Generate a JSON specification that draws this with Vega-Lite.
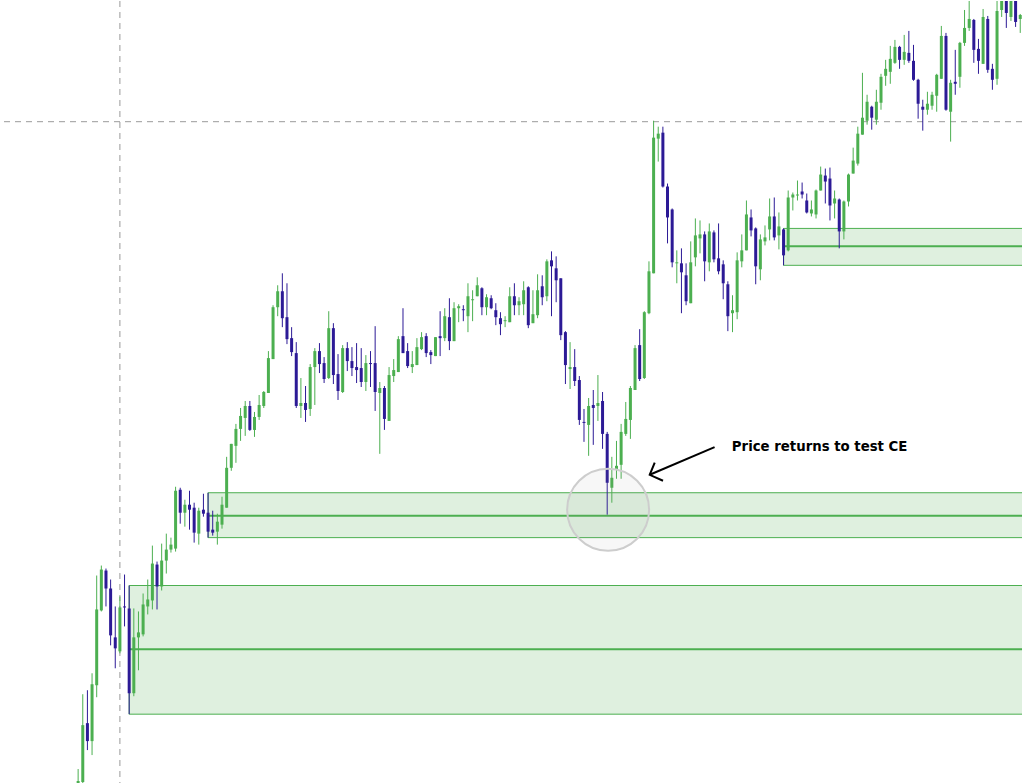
{
  "$schema": "https://vega.github.io/schema/vega-lite/v6.json",
  "width": 1023,
  "height": 784,
  "autosize": {"type": "fit", "contains": "padding"},
  "padding": 0,
  "background": "white",
  "config": {"view": {"stroke": null}, "scale": {"continuousPadding": 0}},
  "datasets": {
    "candles": [
      {"i":0,"o":-6,"h":14,"l":-11,"c":2},{"i":1,"o":1,"h":89,"l":0,"c":58},{"i":2,"o":60,"h":93,"l":33,"c":42},{"i":3,"o":42,"h":110,"l":28,"c":99},{"i":4,"o":98,"h":208,"l":86,"c":174},
      {"i":5,"o":173,"h":218,"l":172,"c":214},{"i":6,"o":213,"h":215,"l":177,"c":195},{"i":7,"o":195,"h":204,"l":138,"c":148},{"i":8,"o":146,"h":177,"l":115,"c":135},{"i":9,"o":132,"h":187,"l":130,"c":176},
      {"i":10,"o":177,"h":209,"l":157,"c":176},{"i":11,"o":175,"h":198,"l":69,"c":90},{"i":12,"o":90,"h":175,"l":87,"c":146},{"i":13,"o":146,"h":172,"l":113,"c":151},{"i":14,"o":149,"h":190,"l":147,"c":179},
      {"i":15,"o":177,"h":204,"l":169,"c":184},{"i":16,"o":183,"h":238,"l":174,"c":220},{"i":17,"o":219,"h":222,"l":174,"c":197},{"i":18,"o":197,"h":240,"l":193,"c":223},{"i":19,"o":223,"h":250,"l":210,"c":234},
      {"i":20,"o":234,"h":246,"l":231,"c":239},{"i":21,"o":235,"h":297,"l":232,"c":293},{"i":22,"o":294,"h":296,"l":260,"c":271},{"i":23,"o":271,"h":284,"l":257,"c":279},{"i":24,"o":279,"h":293,"l":254,"c":274},
      {"i":25,"o":276,"h":281,"l":241,"c":251},{"i":26,"o":250,"h":276,"l":239,"c":273},{"i":27,"o":274,"h":290,"l":267,"c":270},{"i":28,"o":271,"h":291,"l":246,"c":252},{"i":29,"o":254,"h":273,"l":248,"c":251},
      {"i":30,"o":252,"h":270,"l":239,"c":262},{"i":31,"o":259,"h":287,"l":255,"c":279},{"i":32,"o":276,"h":327,"l":276,"c":316},{"i":33,"o":316,"h":340,"l":313,"c":340},{"i":34,"o":338,"h":360,"l":321,"c":355},
      {"i":35,"o":355,"h":376,"l":343,"c":368},{"i":36,"o":366,"h":383,"l":348,"c":378},{"i":37,"o":378,"h":383,"l":353,"c":354},{"i":38,"o":354,"h":372,"l":347,"c":367},{"i":39,"o":367,"h":389,"l":364,"c":379},
      {"i":40,"o":378,"h":393,"l":376,"c":392},{"i":41,"o":391,"h":433,"l":391,"c":426},{"i":42,"o":425,"h":479,"l":425,"c":477},{"i":43,"o":477,"h":499,"l":468,"c":493},{"i":44,"o":493,"h":511,"l":457,"c":466},
      {"i":45,"o":467,"h":501,"l":440,"c":445},{"i":46,"o":446,"h":457,"l":428,"c":432},{"i":47,"o":431,"h":442,"l":376,"c":378},{"i":48,"o":378,"h":406,"l":366,"c":381},{"i":49,"o":381,"h":398,"l":362,"c":374},
      {"i":50,"o":375,"h":420,"l":368,"c":417},{"i":51,"o":417,"h":436,"l":379,"c":433},{"i":52,"o":433,"h":441,"l":411,"c":420},{"i":53,"o":421,"h":427,"l":401,"c":405},{"i":54,"o":406,"h":473,"l":405,"c":456},
      {"i":55,"o":456,"h":461,"l":400,"c":409},{"i":56,"o":410,"h":430,"l":384,"c":393},{"i":57,"o":392,"h":439,"l":391,"c":436},{"i":58,"o":436,"h":442,"l":413,"c":423},{"i":59,"o":423,"h":437,"l":408,"c":416},
      {"i":60,"o":417,"h":441,"l":401,"c":414},{"i":61,"o":416,"h":436,"l":397,"c":402},{"i":62,"o":402,"h":429,"l":393,"c":421},{"i":63,"o":421,"h":433,"l":397,"c":420},{"i":64,"o":421,"h":458,"l":373,"c":392},
      {"i":65,"o":391,"h":402,"l":330,"c":396},{"i":66,"o":396,"h":398,"l":354,"c":365},{"i":67,"o":363,"h":417,"l":363,"c":409},{"i":68,"o":408,"h":425,"l":402,"c":414},{"i":69,"o":412,"h":448,"l":412,"c":445},
      {"i":70,"o":448,"h":476,"l":431,"c":431},{"i":71,"o":433,"h":441,"l":416,"c":418},{"i":72,"o":417,"h":433,"l":411,"c":420},{"i":73,"o":419,"h":446,"l":419,"c":437},{"i":74,"o":435,"h":452,"l":434,"c":447},
      {"i":75,"o":448,"h":451,"l":427,"c":431},{"i":76,"o":432,"h":434,"l":420,"c":429},{"i":77,"o":428,"h":447,"l":428,"c":447},{"i":78,"o":448,"h":473,"l":428,"c":446},{"i":79,"o":446,"h":476,"l":443,"c":468},
      {"i":80,"o":467,"h":486,"l":434,"c":443},{"i":81,"o":443,"h":482,"l":443,"c":476},{"i":82,"o":476,"h":480,"l":462,"c":478},{"i":83,"o":475,"h":479,"l":463,"c":474},{"i":84,"o":468,"h":501,"l":452,"c":488},
      {"i":85,"o":484,"h":494,"l":463,"c":485},{"i":86,"o":488,"h":507,"l":488,"c":499},{"i":87,"o":496,"h":497,"l":469,"c":477},{"i":88,"o":477,"h":490,"l":469,"c":487},{"i":89,"o":486,"h":489,"l":475,"c":476},
      {"i":90,"o":474,"h":481,"l":459,"c":467},{"i":91,"o":466,"h":472,"l":449,"c":460},{"i":92,"o":463,"h":468,"l":457,"c":464},{"i":93,"o":462,"h":497,"l":462,"c":488},{"i":94,"o":488,"h":501,"l":469,"c":479},
      {"i":95,"o":479,"h":487,"l":469,"c":483},{"i":96,"o":480,"h":503,"l":469,"c":494},{"i":97,"o":497,"h":498,"l":456,"c":459},{"i":98,"o":461,"h":494,"l":461,"c":470},{"i":99,"o":469,"h":510,"l":466,"c":494},
      {"i":100,"o":498,"h":509,"l":479,"c":487},{"i":101,"o":488,"h":525,"l":483,"c":523},{"i":102,"o":524,"h":533,"l":468,"c":518},{"i":103,"o":516,"h":528,"l":482,"c":504},{"i":104,"o":506,"h":506,"l":444,"c":449},
      {"i":105,"o":452,"h":453,"l":400,"c":419},{"i":106,"o":415,"h":442,"l":395,"c":417},{"i":107,"o":417,"h":435,"l":398,"c":403},{"i":108,"o":404,"h":408,"l":359,"c":364},{"i":109,"o":362,"h":375,"l":342,"c":361},
      {"i":110,"o":359,"h":386,"l":328,"c":378},{"i":111,"o":379,"h":394,"l":339,"c":376},{"i":112,"o":378,"h":409,"l":363,"c":381},{"i":113,"o":383,"h":392,"l":335,"c":350},{"i":114,"o":350,"h":352,"l":269,"c":301},
      {"i":115,"o":296,"h":327,"l":281,"c":306},{"i":116,"o":314,"h":343,"l":305,"c":318},{"i":117,"o":319,"h":360,"l":305,"c":352},{"i":118,"o":350,"h":382,"l":348,"c":365},{"i":119,"o":364,"h":398,"l":345,"c":396},
      {"i":120,"o":394,"h":439,"l":394,"c":436},{"i":121,"o":439,"h":455,"l":403,"c":405},{"i":122,"o":406,"h":473,"l":405,"c":472},{"i":123,"o":471,"h":523,"l":470,"c":513},{"i":124,"o":511,"h":664,"l":511,"c":647},
      {"i":125,"o":646,"h":658,"l":623,"c":651},{"i":126,"o":652,"h":658,"l":597,"c":598},{"i":127,"o":598,"h":601,"l":541,"c":567},{"i":128,"o":575,"h":576,"l":517,"c":522},{"i":129,"o":521,"h":534,"l":501,"c":522},
      {"i":130,"o":521,"h":536,"l":471,"c":512},{"i":131,"o":509,"h":521,"l":479,"c":483},{"i":132,"o":481,"h":543,"l":481,"c":522},{"i":133,"o":527,"h":566,"l":518,"c":549},{"i":134,"o":546,"h":564,"l":531,"c":550},
      {"i":135,"o":550,"h":553,"l":503,"c":523},{"i":136,"o":522,"h":561,"l":513,"c":553},{"i":137,"o":552,"h":554,"l":522,"c":525},{"i":138,"o":526,"h":561,"l":510,"c":513},{"i":139,"o":520,"h":524,"l":485,"c":501},
      {"i":140,"o":500,"h":503,"l":453,"c":468},{"i":141,"o":471,"h":489,"l":452,"c":474},{"i":142,"o":472,"h":532,"l":465,"c":524},{"i":143,"o":523,"h":550,"l":517,"c":534},{"i":144,"o":534,"h":584,"l":534,"c":570},
      {"i":145,"o":567,"h":575,"l":548,"c":554},{"i":146,"o":556,"h":557,"l":500,"c":518},{"i":147,"o":515,"h":550,"l":504,"c":545},{"i":148,"o":543,"h":559,"l":539,"c":547},{"i":149,"o":555,"h":586,"l":544,"c":568},
      {"i":150,"o":568,"h":587,"l":544,"c":547},{"i":151,"o":549,"h":572,"l":535,"c":558},{"i":152,"o":555,"h":556,"l":519,"c":529},{"i":153,"o":534,"h":594,"l":533,"c":587},{"i":154,"o":587,"h":592,"l":574,"c":590},
      {"i":155,"o":589,"h":604,"l":584,"c":590},{"i":156,"o":593,"h":602,"l":586,"c":590},{"i":157,"o":584,"h":591,"l":571,"c":572},{"i":158,"o":571,"h":584,"l":568,"c":575},{"i":159,"o":570,"h":595,"l":566,"c":594},
      {"i":160,"o":594,"h":618,"l":594,"c":610},{"i":161,"o":609,"h":616,"l":581,"c":603},{"i":162,"o":606,"h":617,"l":564,"c":579},{"i":163,"o":581,"h":594,"l":566,"c":586},{"i":164,"o":585,"h":586,"l":536,"c":553},
      {"i":165,"o":553,"h":584,"l":545,"c":583},{"i":166,"o":583,"h":611,"l":578,"c":610},{"i":167,"o":611,"h":637,"l":611,"c":624},{"i":168,"o":621,"h":658,"l":619,"c":651},{"i":169,"o":650,"h":712,"l":650,"c":667},
      {"i":170,"o":664,"h":690,"l":660,"c":683},{"i":171,"o":678,"h":679,"l":655,"c":667},{"i":172,"o":665,"h":695,"l":660,"c":683},{"i":173,"o":682,"h":711,"l":675,"c":708},{"i":174,"o":709,"h":725,"l":699,"c":716},
      {"i":175,"o":713,"h":739,"l":701,"c":726},{"i":176,"o":722,"h":745,"l":721,"c":738},{"i":177,"o":738,"h":739,"l":716,"c":725},{"i":178,"o":725,"h":750,"l":720,"c":733},{"i":179,"o":732,"h":754,"l":722,"c":724},
      {"i":180,"o":724,"h":740,"l":704,"c":705},{"i":181,"o":705,"h":706,"l":666,"c":681},{"i":182,"o":678,"h":685,"l":654,"c":675},{"i":183,"o":675,"h":693,"l":670,"c":681},{"i":184,"o":679,"h":693,"l":675,"c":690},
      {"i":185,"o":689,"h":711,"l":673,"c":710},{"i":186,"o":706,"h":759,"l":706,"c":749},{"i":187,"o":749,"h":752,"l":674,"c":675},{"i":188,"o":673,"h":705,"l":643,"c":702},{"i":189,"o":703,"h":735,"l":690,"c":701},
      {"i":190,"o":708,"h":743,"l":697,"c":742},{"i":191,"o":742,"h":775,"l":739,"c":757},{"i":192,"o":757,"h":790,"l":754,"c":766},{"i":193,"o":765,"h":766,"l":722,"c":735},{"i":194,"o":736,"h":746,"l":711,"c":724},
      {"i":195,"o":721,"h":776,"l":721,"c":768},{"i":196,"o":766,"h":769,"l":712,"c":715},{"i":197,"o":716,"h":721,"l":695,"c":705},{"i":198,"o":706,"h":789,"l":700,"c":774},{"i":199,"o":775,"h":792,"l":768,"c":787},
      {"i":200,"o":787,"h":792,"l":757,"c":772},{"i":201,"o":768,"h":792,"l":764,"c":787},{"i":202,"o":787,"h":792,"l":758,"c":763},{"i":203,"o":766,"h":771,"l":752,"c":770}
    ],
    "zones": [
      {"start":11,"end":210,"top":198,"bottom":69,"mid":134},
      {"start":28,"end":210,"top":291,"bottom":246,"mid":268},
      {"start":152,"end":210,"top":556,"bottom":519,"mid":538}
    ],
    "arrow": [
      {"seg":"shaft","k":0,"i":137.14,"p":336.7},
      {"seg":"shaft","k":1,"i":123.16,"p":309},
      {"seg":"head","k":0,"i":124.24,"p":321.3},
      {"seg":"head","k":1,"i":123.16,"p":309},
      {"seg":"head","k":2,"i":126.03,"p":303}
    ]
  },
  "resolve": {"scale": {"x": "shared", "y": "shared"}},
  "layer": [
    {
      "data": {"name": "zones"},
      "mark": {"type": "rect", "fill": "#dff0df", "strokeWidth": 0, "clip": true},
      "encoding": {
        "x": {"field": "start", "type": "quantitative", "scale": {"domain": [-16.62, 203.38], "nice": false, "zero": false, "padding": 0}, "axis": null},
        "x2": {"field": "end"},
        "y": {"field": "top", "type": "quantitative", "scale": {"domain": [0, 784], "nice": false, "zero": false, "padding": 0}, "axis": null},
        "y2": {"field": "bottom"}
      }
    },
    {
      "data": {"name": "zones"},
      "mark": {"type": "rule", "color": "#4caf50", "strokeWidth": 1, "clip": true},
      "encoding": {
        "x": {"field": "start", "type": "quantitative"},
        "x2": {"field": "end"},
        "y": {"field": "top", "type": "quantitative"}
      }
    },
    {
      "data": {"name": "zones"},
      "mark": {"type": "rule", "color": "#4caf50", "strokeWidth": 1, "clip": true},
      "encoding": {
        "x": {"field": "start", "type": "quantitative"},
        "x2": {"field": "end"},
        "y": {"field": "bottom", "type": "quantitative"}
      }
    },
    {
      "data": {"name": "zones"},
      "mark": {"type": "rule", "color": "#4caf50", "strokeWidth": 1, "clip": true},
      "encoding": {
        "x": {"field": "start", "type": "quantitative"},
        "y": {"field": "top", "type": "quantitative"},
        "y2": {"field": "bottom"}
      }
    },
    {
      "data": {"name": "zones"},
      "mark": {"type": "rule", "color": "#4caf50", "strokeWidth": 2, "clip": true},
      "encoding": {
        "x": {"field": "start", "type": "quantitative"},
        "x2": {"field": "end"},
        "y": {"field": "mid", "type": "quantitative"}
      }
    },
    {
      "data": {"values": [{"vx": 9}]},
      "mark": {"type": "rule", "color": "#9a9a9a", "strokeWidth": 1, "strokeDash": [6, 5]},
      "encoding": {"x": {"field": "vx", "type": "quantitative"}}
    },
    {
      "data": {"values": [{"hy": 663}]},
      "mark": {"type": "rule", "color": "#9a9a9a", "strokeWidth": 1, "strokeDash": [6, 5]},
      "encoding": {"y": {"field": "hy", "type": "quantitative"}}
    },
    {
      "data": {"name": "candles"},
      "mark": {"type": "rule", "strokeWidth": 1, "clip": true},
      "encoding": {
        "x": {"field": "i", "type": "quantitative"},
        "y": {"field": "l", "type": "quantitative"},
        "y2": {"field": "h"},
        "color": {"condition": {"test": "datum.c >= datum.o", "value": "#4caf50"}, "value": "#2c1a96"}
      }
    },
    {
      "data": {"name": "candles"},
      "mark": {"type": "bar", "size": 3, "clip": true},
      "encoding": {
        "x": {"field": "i", "type": "quantitative"},
        "y": {"field": "o", "type": "quantitative"},
        "y2": {"field": "c"},
        "color": {"condition": {"test": "datum.c >= datum.o", "value": "#4caf50"}, "value": "#2c1a96"}
      }
    },
    {
      "data": {"values": [{"i": 114.2, "p": 274}]},
      "mark": {"type": "point", "shape": "circle", "size": 6724, "filled": true, "fill": "#9a9a9a", "fillOpacity": 0.08, "stroke": "#cdcdcd", "strokeWidth": 2, "strokeOpacity": 1},
      "encoding": {
        "x": {"field": "i", "type": "quantitative"},
        "y": {"field": "p", "type": "quantitative"}
      }
    },
    {
      "data": {"name": "arrow"},
      "mark": {"type": "line", "color": "black", "strokeWidth": 2},
      "encoding": {
        "x": {"field": "i", "type": "quantitative"},
        "y": {"field": "p", "type": "quantitative"},
        "detail": {"field": "seg"},
        "order": {"field": "k"}
      }
    },
    {
      "data": {"values": [{"i": 140.86, "p": 333, "label": "Price returns to test CE"}]},
      "mark": {"type": "text", "align": "left", "baseline": "alphabetic", "font": "DejaVu Sans", "fontWeight": "bold", "fontSize": 13.3, "color": "black"},
      "encoding": {
        "x": {"field": "i", "type": "quantitative"},
        "y": {"field": "p", "type": "quantitative"},
        "text": {"field": "label"}
      }
    }
  ]
}
